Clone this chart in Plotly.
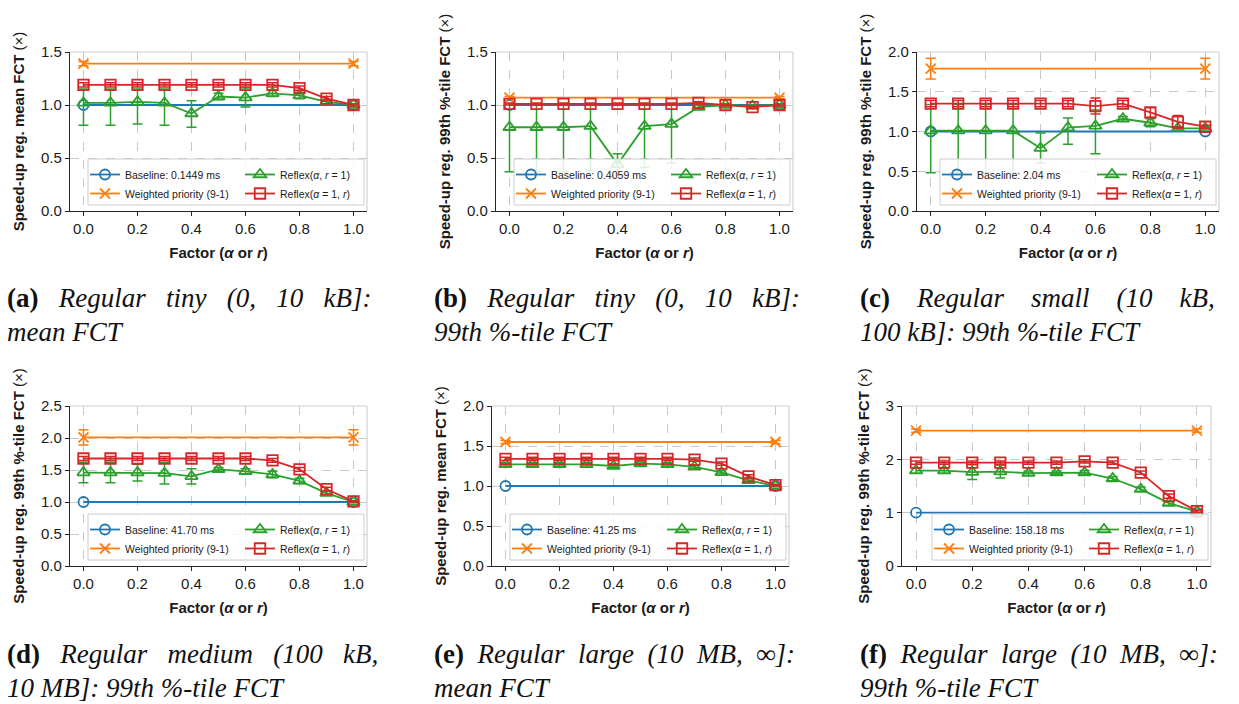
import plotly.graph_objects as go

# ---------------- data ----------------
factors = [0.0, 0.1, 0.2, 0.3, 0.4, 0.5, 0.6, 0.7, 0.8, 0.9, 1.0]
ends = [0.0, 1.0]

baseline_labels = ["Baseline: 0.1449 ms", "Baseline: 0.4059 ms", "Baseline: 2.04 ms",
                   "Baseline: 41.70 ms", "Baseline: 41.25 ms", "Baseline: 158.18 ms"]
ytitles = ["Speed-up reg. mean FCT", "Speed-up reg. 99th %-tile FCT", "Speed-up reg. 99th %-tile FCT",
           "Speed-up reg. 99th %-tile FCT", "Speed-up reg. mean FCT", "Speed-up reg. 99th %-tile FCT"]
ymax = [1.5, 1.5, 2.0, 2.5, 2.0, 3.0]
ydtick = [0.5, 0.5, 0.5, 0.5, 0.5, 1.0]
ytickfmt = [".1f", ".1f", ".1f", ".1f", ".1f", "d"]

# weighted priority (9-1)
wp_val = [1.39, 1.07, 1.79, 2.01, 1.55, 2.54]
wp_err = [0.02, 0.01, 0.13, 0.12, 0.02, 0.03]

# Reflex(alpha, r=1)
green_a = [1.02, 1.02, 1.03, 1.02, 0.92, 1.08, 1.07, 1.11, 1.09, 1.03, 1.00]
green_a_lo = [0.21, 0.21, 0.21, 0.21, 0.13, 0.03, 0.09, 0.03, 0.03, 0.02, 0.01]
green_a_hi = [0.13, 0.13, 0.12, 0.13, 0.12, 0.03, 0.09, 0.03, 0.03, 0.02, 0.01]
green_b = [0.79, 0.79, 0.79, 0.80, 0.44, 0.80, 0.82, 0.98, 1.00, 0.99, 1.00]
green_b_lo = [0.42, 0.42, 0.42, 0.42, 0.10, 0.39, 0.37, 0.02, 0.01, 0.01, 0.01]
green_b_hi = [0.22, 0.22, 0.22, 0.21, 0.10, 0.21, 0.19, 0.02, 0.01, 0.01, 0.01]
green_c = [1.01, 1.01, 1.01, 1.01, 0.79, 1.05, 1.07, 1.16, 1.11, 1.04, 1.04]
green_c_lo = [0.53, 0.53, 0.53, 0.53, 0.19, 0.21, 0.35, 0.03, 0.05, 0.02, 0.01]
green_c_hi = [0.33, 0.33, 0.33, 0.33, 0.19, 0.12, 0.20, 0.03, 0.05, 0.02, 0.01]
green_d = [1.46, 1.46, 1.46, 1.45, 1.40, 1.51, 1.48, 1.43, 1.33, 1.14, 1.00]
green_d_lo = [0.16, 0.16, 0.13, 0.17, 0.12, 0.03, 0.04, 0.05, 0.04, 0.03, 0.01]
green_d_hi = [0.16, 0.16, 0.13, 0.17, 0.12, 0.03, 0.04, 0.05, 0.04, 0.03, 0.01]
green_e = [1.27, 1.27, 1.27, 1.27, 1.25, 1.28, 1.27, 1.24, 1.17, 1.07, 1.00]
green_e_lo = [0.02, 0.02, 0.02, 0.02, 0.02, 0.02, 0.02, 0.02, 0.02, 0.02, 0.01]
green_e_hi = [0.02, 0.02, 0.02, 0.02, 0.02, 0.02, 0.02, 0.02, 0.02, 0.02, 0.01]
green_f = [1.79, 1.79, 1.76, 1.77, 1.74, 1.75, 1.75, 1.64, 1.44, 1.18, 1.02]
green_f_lo = [0.05, 0.05, 0.14, 0.12, 0.04, 0.03, 0.04, 0.04, 0.04, 0.04, 0.02]
green_f_hi = [0.05, 0.05, 0.14, 0.12, 0.04, 0.03, 0.04, 0.04, 0.04, 0.04, 0.02]

# Reflex(alpha=1, r)
red_a = [1.19, 1.19, 1.19, 1.19, 1.19, 1.19, 1.19, 1.19, 1.16, 1.06, 1.00]
red_a_err = [0.02, 0.02, 0.02, 0.02, 0.02, 0.02, 0.02, 0.02, 0.02, 0.02, 0.01]
red_b = [1.01, 1.01, 1.01, 1.01, 1.01, 1.01, 1.01, 1.02, 1.00, 0.98, 1.00]
red_b_err = [0.01, 0.01, 0.01, 0.01, 0.01, 0.01, 0.01, 0.01, 0.01, 0.01, 0.01]
red_c = [1.35, 1.35, 1.35, 1.35, 1.35, 1.35, 1.32, 1.35, 1.24, 1.12, 1.06]
red_c_err = [0.04, 0.04, 0.04, 0.04, 0.04, 0.04, 0.10, 0.04, 0.06, 0.08, 0.02]
red_d = [1.68, 1.68, 1.68, 1.68, 1.68, 1.68, 1.68, 1.65, 1.51, 1.20, 1.01]
red_d_err = [0.03, 0.03, 0.03, 0.03, 0.03, 0.03, 0.03, 0.03, 0.03, 0.03, 0.01]
red_e = [1.34, 1.34, 1.34, 1.34, 1.34, 1.34, 1.34, 1.33, 1.28, 1.12, 1.01]
red_e_err = [0.02, 0.02, 0.02, 0.02, 0.02, 0.02, 0.02, 0.02, 0.02, 0.02, 0.01]
red_f = [1.94, 1.94, 1.94, 1.94, 1.94, 1.94, 1.96, 1.94, 1.75, 1.31, 1.03]
red_f_err = [0.03, 0.03, 0.03, 0.03, 0.03, 0.03, 0.03, 0.03, 0.03, 0.04, 0.02]

captions = [
    ("(a)", "Regular tiny (0, 10 kB]:", "mean FCT"),
    ("(b)", "Regular tiny (0, 10 kB]:", "99th %-tile FCT"),
    ("(c)", "Regular small (10 kB,", "100 kB]: 99th %-tile FCT"),
    ("(d)", "Regular medium (100 kB,", "10 MB]: 99th %-tile FCT"),
    ("(e)", "Regular large (10 MB, \u221e]:", "mean FCT"),
    ("(f)", "Regular large (10 MB, \u221e]:", "99th %-tile FCT"),
]
# extra word spacing (non-breaking spaces per gap) to imitate justified text
cap_gap = [2, 2, 3, 2, 1, 1]

greens = [(green_a, green_a_lo, green_a_hi), (green_b, green_b_lo, green_b_hi),
          (green_c, green_c_lo, green_c_hi), (green_d, green_d_lo, green_d_hi),
          (green_e, green_e_lo, green_e_hi), (green_f, green_f_lo, green_f_hi)]
reds = [(red_a, red_a_err), (red_b, red_b_err), (red_c, red_c_err),
        (red_d, red_d_err), (red_e, red_e_err), (red_f, red_f_err)]

# ---------------- layout geometry (pixels in 1239x704) ----------------
W, H = 1239, 704
xpix = [(70, 367), (496, 793), (917, 1219), (70, 367), (492, 789), (902, 1211)]
ypix = [(52, 211), (52, 211), (52, 211), (406, 566), (406, 566), (406, 566)]
cap_x = [5, 432, 858, 5, 432, 858]
cap_y = [298, 298, 298, 654, 654, 654]

BLUE, ORANGE, GREEN, RED = "#1f77b4", "#ff7f0e", "#2ca02c", "#d62728"
FONT = "Liberation Sans"
CAPFONT = "Liberation Serif"

fig = go.Figure()
layout = dict(width=W, height=H, margin=dict(l=0, r=0, t=0, b=0),
              paper_bgcolor="white", plot_bgcolor="white", showlegend=True)
shapes = []
annotations = []

for i in range(6):
    n = "" if i == 0 else str(i + 1)
    xa, ya = "x" + n, "y" + n
    lgA = "legend" + ("" if i == 0 else str(2 * i + 1))
    lgB = "legend" + str(2 * i + 2)
    xd = [xpix[i][0] / W, xpix[i][1] / W]
    yd = [1 - ypix[i][1] / H, 1 - ypix[i][0] / H]

    fig.add_trace(go.Scatter(x=ends, y=[1.0, 1.0], mode="lines+markers", name=baseline_labels[i],
                             line=dict(color=BLUE, width=1.8),
                             marker=dict(symbol="circle-open", size=10, color=BLUE, line=dict(width=1.8)),
                             xaxis=xa, yaxis=ya, legend=lgA, legendrank=1))
    fig.add_trace(go.Scatter(x=ends, y=[wp_val[i]] * 2, mode="lines+markers", name="Weighted priority (9-1)",
                             line=dict(color=ORANGE, width=1.8),
                             marker=dict(symbol="x-thin-open", size=10, color=ORANGE,
                                         line=dict(width=1.8, color=ORANGE)),
                             error_y=dict(type="data", array=[wp_err[i]] * 2, color=ORANGE, thickness=1.5, width=5),
                             xaxis=xa, yaxis=ya, legend=lgA, legendrank=2))
    gv, glo, ghi = greens[i]
    fig.add_trace(go.Scatter(x=factors, y=gv, mode="lines+markers", name="Reflex(<i>\u03b1</i>, <i>r</i> = 1)",
                             line=dict(color=GREEN, width=1.8),
                             marker=dict(symbol="triangle-up-open", size=11, color=GREEN, line=dict(width=1.8)),
                             error_y=dict(type="data", symmetric=False, array=ghi, arrayminus=glo,
                                          color=GREEN, thickness=1.5, width=5),
                             xaxis=xa, yaxis=ya, legend=lgB, legendrank=1))
    rv, re = reds[i]
    fig.add_trace(go.Scatter(x=factors, y=rv, mode="lines+markers", name="Reflex(<i>\u03b1</i> = 1, <i>r</i>)",
                             line=dict(color=RED, width=1.8),
                             marker=dict(symbol="square-open", size=10.5, color=RED, line=dict(width=1.8)),
                             error_y=dict(type="data", array=re, color=RED, thickness=1.5, width=5),
                             xaxis=xa, yaxis=ya, legend=lgB, legendrank=2))

    axfont = dict(family=FONT, size=15, color="#1a1a1a")
    common = dict(showline=True, linecolor="#262626", linewidth=1.3,
                  ticks="outside", ticklen=4, tickwidth=1.2, tickcolor="#262626",
                  showgrid=True, gridcolor="#c8c8c8", griddash="dash", gridwidth=0.8,
                  zeroline=False, tickfont=axfont, automargin=False)
    layout["xaxis" + n] = dict(domain=xd, anchor=ya, range=[-0.05, 1.05], tickmode="linear", tick0=0, dtick=0.2,
                              tickformat=".1f",
                              title=dict(text="Factor (<i>\u03b1</i> or <i>r</i>)", standoff=11,
                                         font=dict(family=FONT, size=15, color="#1a1a1a", weight="bold")),
                              **common)
    layout["yaxis" + n] = dict(domain=yd, anchor=xa, range=[0, ymax[i]], tickmode="linear", tick0=0,
                              dtick=ydtick[i], tickformat=ytickfmt[i],
                              title=dict(text=ytitles[i] + " <span style='font-weight:normal'>(\u00d7)</span>",
                                         standoff=12,
                                         font=dict(family=FONT, size=15, color="#1a1a1a", weight="bold")),
                              **common)
    # light top/right spines
    shapes.append(dict(type="line", xref=xa + " domain", yref=ya + " domain", x0=0, x1=1, y0=1, y1=1,
                       line=dict(color="#d0d0d0", width=1.2)))
    shapes.append(dict(type="line", xref=xa + " domain", yref=ya + " domain", x0=1, x1=1, y0=0, y1=1,
                       line=dict(color="#d0d0d0", width=1.2)))

    # legend frame (pixels)
    R, B = xpix[i][1], ypix[i][1]
    bx1, bx0 = R - 3, R - 3 - 276
    by1, by0 = B - 6, B - 52
    shapes.append(dict(type="rect", xref="paper", yref="paper", layer="above",
                       x0=bx0 / W, x1=bx1 / W, y0=1 - by1 / H, y1=1 - by0 / H,
                       fillcolor="rgba(255,255,255,0.85)", line=dict(color="#cccccc", width=1)))
    lfont = dict(family=FONT, size=10.5, color="#1a1a1a")
    layout[lgA] = dict(x=(bx0 - 3) / W, y=1 - (by0 + 1) / H, xanchor="left", yanchor="top",
                       bgcolor="rgba(0,0,0,0)", borderwidth=0, font=lfont, tracegroupgap=0)
    layout[lgB] = dict(x=(bx0 + 152) / W, y=1 - (by0 + 1) / H, xanchor="left", yanchor="top",
                       bgcolor="rgba(0,0,0,0)", borderwidth=0, font=lfont, tracegroupgap=0)

    lab, l1, l2 = captions[i]
    sep = " " + "\u00a0" * cap_gap[i]
    line1 = "<b>" + lab + "</b>" + sep + "<i>" + sep.join(l1.split(" ")) + "</i>"
    annotations.append(dict(xref="paper", yref="paper", x=cap_x[i] / W, y=1 - cap_y[i] / H,
                            xanchor="left", yanchor="middle", showarrow=False, text=line1,
                            font=dict(family=CAPFONT, size=27, color="#111")))
    annotations.append(dict(xref="paper", yref="paper", x=cap_x[i] / W, y=1 - (cap_y[i] + 34) / H,
                            xanchor="left", yanchor="middle", showarrow=False,
                            text="<i>" + l2 + "</i>",
                            font=dict(family=CAPFONT, size=27, color="#111")))

layout["shapes"] = shapes
layout["annotations"] = annotations
fig.update_layout(**layout)
fig.write_html("out.html", config={"displayModeBar": False},
               post_script="document.body.style.margin='0';")
